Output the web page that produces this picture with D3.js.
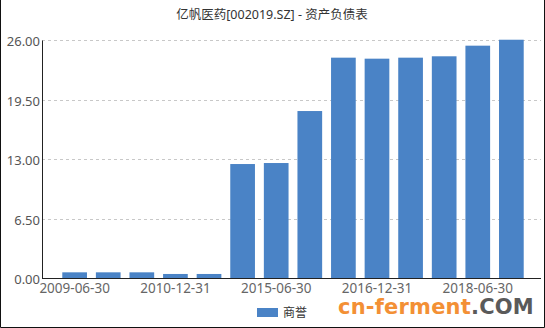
<!DOCTYPE html>
<html><head><meta charset="utf-8">
<script src="https://cdn.jsdelivr.net/npm/d3@7"></script>
<style>body{margin:0;background:#fff}svg{display:block}</style>
</head><body>
<script>
const categories = ["2009-06-30","2009-12-31","2010-06-30","2010-12-31","2011-06-30","2014-12-31","2015-06-30","2015-12-31","2016-06-30","2016-12-31","2017-06-30","2017-12-31","2018-06-30","2018-12-31"];
const goodwill = [0.62,0.62,0.62,0.44,0.44,12.45,12.56,18.24,24.07,23.96,24.07,24.22,25.38,26.03];
const yTicks = [0,6.5,13,19.5,26];
const shownLabels = ["2009-06-30","2010-12-31","2015-06-30","2016-12-31","2018-06-30"];
const seriesName = "商誉";
const title = "亿帆医药[002019.SZ] - 资产负债表";

const W=545,H=328;
const svg=d3.select("body").append("svg").attr("width",W).attr("height",H);
const font="'Noto Sans','Noto Sans CJK SC',sans-serif";

const x=d3.scaleBand().domain(categories).range([42,544]).paddingInner(0.265).paddingOuter(0.604);
const y=d3.scaleLinear().domain([0,26]).range([278,40]);

// title
svg.append("text").attr("x",272).attr("y",19).attr("text-anchor","middle")
  .attr("font-family",font).attr("font-size",12.5).attr("fill","#333").text(title);

// grid
svg.append("g").selectAll("line").data(yTicks.filter(d=>d>0)).join("line")
  .attr("x1",42).attr("x2",541).attr("y1",d=>Math.round(y(d))+0.5).attr("y2",d=>Math.round(y(d))+0.5)
  .attr("stroke","#c8c8c8").attr("stroke-dasharray","3,3");

// bars
svg.append("g").selectAll("rect").data(goodwill).join("rect")
  .attr("x",(d,i)=>x(categories[i])).attr("width",x.bandwidth())
  .attr("y",d=>y(d)).attr("height",d=>y(0)-y(d)).attr("fill","#4a83c6");

// y axis
const ya=svg.append("g").attr("transform","translate(42,0)")
  .call(d3.axisLeft(y).tickValues(yTicks).tickSize(0).tickPadding(2).tickFormat(d3.format(".2f")));
ya.select(".domain").attr("stroke","#222");
ya.selectAll("text").attr("font-family",font).attr("font-size",13).attr("fill","#555").attr("dy","0.45em");

// x axis
const xa=svg.append("g").attr("transform","translate(0,278)")
  .call(d3.axisBottom(x).tickValues(shownLabels).tickSize(0).tickPadding(5));
xa.select(".domain").attr("stroke","#222").attr("d","M42,0.5H541");
xa.selectAll("text").attr("font-family",font).attr("font-size",13.5).attr("fill","#666");

// legend
svg.append("rect").attr("x",257).attr("y",308).attr("width",21).attr("height",9).attr("fill","#4a83c6");
svg.append("text").attr("x",283).attr("y",317).attr("font-family",font).attr("font-size",12).attr("fill","#333").text(seriesName);

// watermark
const wm=svg.append("text").attr("x",338).attr("y",314).attr("font-family","'DejaVu Sans',sans-serif")
  .attr("font-weight","bold").attr("font-size",21).attr("letter-spacing",0.2);
wm.append("tspan").attr("fill","#f39035").text("cn-ferment");
wm.append("tspan").attr("fill","#5a5a5a").text(".COM");

// frame
svg.append("path").attr("d","M0.5,0V327.5H544.5V0").attr("fill","none").attr("stroke","#111");
</script>
</body></html>
